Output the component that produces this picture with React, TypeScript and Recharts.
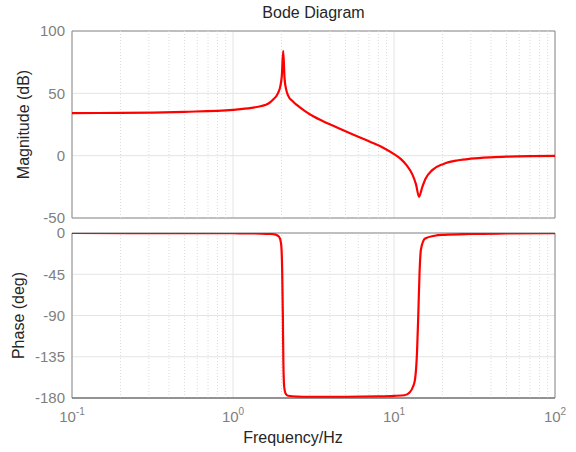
import React from "react";
import { LineChart, Line, XAxis, YAxis, CartesianGrid, ReferenceLine, ReferenceArea } from "recharts";

// values
const magFreq = [0.1, 0.2, 0.5, 1, 1.3, 1.5, 1.65, 1.77, 1.9, 1.97, 2.01, 2.05, 2.09, 2.14, 2.2, 2.35, 2.5, 2.8, 3.15, 3.6, 4.2, 5, 6, 7.2, 8.5, 10, 11, 12, 13, 13.7, 14.3, 15, 15.7, 17.2, 20.3, 25, 30, 40, 50, 70, 100];
const magDb = [34.2, 34.3, 35.2, 36.8, 38.3, 39.8, 41.6, 44.9, 50, 56, 64, 84, 62, 53, 48.2, 43.6, 40.5, 35.8, 31.6, 27.9, 24, 19.6, 15.2, 10.8, 6.6, 1.3, -2.6, -7.8, -15, -23, -33, -25, -18.5, -11.8, -6.6, -3.7, -2.4, -1.3, -0.8, -0.4, -0.2];

const phaseFreq = [0.1, 0.5, 1, 1.5, 1.7, 1.84, 1.93, 1.99, 2.02, 2.04, 2.055, 2.08, 2.12, 2.2, 2.5, 3, 5, 8, 10, 11.6, 12.5, 13.1, 13.5, 13.9, 14.15, 14.4, 14.7, 15.6, 17.9, 20.5, 30, 50, 100];
const phaseDeg = [0, -0.1, -0.3, -0.6, -1, -1.8, -4, -12, -40, -90, -140, -168, -175, -177.5, -178.5, -178.8, -178.8, -178.3, -177.7, -177, -174, -168, -160, -130, -90, -45, -18, -6, -3, -2, -1, -0.5, -0.2];

const xTicks = [0.1, 1, 10, 100];
const minorX = [0.2, 0.3, 0.4, 0.5, 0.6, 0.7, 0.8, 0.9, 2, 3, 4, 5, 6, 7, 8, 9, 20, 30, 40, 50, 60, 70, 80, 90];
const magTicks = [-50, 0, 50, 100];
const phaseTicks = [-180, -135, -90, -45, 0];

const magData = magFreq.map((f, i) => ({ f, v: magDb[i] }));
const phaseData = phaseFreq.map((f, i) => ({ f, v: phaseDeg[i] }));

const TICK = { fill: "#7f7f7f", fontSize: 15 };
const FRAME = "#8c8c8c";
const GRID = "#e4e4e4";

function LogTick({ x, y, payload }: any) {
  const e = Math.round(Math.log10(payload.value));
  return (
    <text x={x} y={y + 16} textAnchor="middle" fill="#7f7f7f" fontSize={15}>
      <tspan>10</tspan>
      <tspan dy={-7} fontSize={10}>{e}</tspan>
    </text>
  );
}

const yLabel = (text: string, off: number) => ({
  content: ({ viewBox }: any) => {
    const cx = viewBox.x + off;
    const cy = viewBox.y + viewBox.height / 2;
    return (
      <text x={cx} y={cy} transform={`rotate(-90 ${cx} ${cy})`} textAnchor="middle" fill="#262626" fontSize={16}>
        {text}
      </text>
    );
  },
});

export default function App() {
  return (
    <div style={{ position: "absolute", left: 0, top: 0, width: 576, height: 452, background: "#fff", fontFamily: "'Liberation Sans', Arial, sans-serif" }}>
      <LineChart width={576} height={234} data={magData} margin={{ top: 31, right: 21, bottom: 16, left: 0 }}>
        <CartesianGrid stroke={GRID} />
        {minorX.map((m) => (
          <ReferenceLine key={m} x={m} stroke="#dcdcdc" strokeDasharray="1 2" />
        ))}
        <XAxis type="number" dataKey="f" scale="log" domain={[0.1, 100]} ticks={xTicks} allowDataOverflow hide />
        <YAxis
          type="number"
          domain={[-50, 100]}
          ticks={magTicks}
          interval={0}
          width={72}
          tickLine={false}
          axisLine={false}
          tickMargin={1}
          tick={TICK}
          label={yLabel("Magnitude (dB)", 29)}
        />
        <ReferenceArea
          x1={0.1}
          x2={100}
          y1={-50}
          y2={100}
          fill="none"
          stroke={FRAME}
          label={{ value: "Bode Diagram", position: "top", offset: 13, fill: "#262626", fontSize: 16 }}
        />
        <Line dataKey="v" type="monotone" stroke="#ff0000" strokeWidth={2.2} dot={false} isAnimationActive={false} />
      </LineChart>
      <div style={{ position: "absolute", left: 0, top: 226 }}>
        <LineChart width={576} height={226} data={phaseData} margin={{ top: 7, right: 21, bottom: 0, left: 0 }}>
          <CartesianGrid stroke={GRID} />
          {minorX.map((m) => (
            <ReferenceLine key={m} x={m} stroke="#dcdcdc" strokeDasharray="1 2" />
          ))}
          <XAxis
            type="number"
            dataKey="f"
            scale="log"
            domain={[0.1, 100]}
            ticks={xTicks}
            interval={0}
            allowDataOverflow
            height={54}
            tickLine={false}
            axisLine={{ stroke: "#666" }}
            tick={LogTick}
            label={{
              content: ({ viewBox }: any) => (
                <text x={viewBox.x + 221} y={viewBox.y + 45} textAnchor="middle" fill="#262626" fontSize={16}>
                  Frequency/Hz
                </text>
              ),
            }}
          />
          <YAxis
            type="number"
            domain={[-180, 0]}
            ticks={phaseTicks}
            interval={0}
            width={72}
            tickLine={false}
            axisLine={false}
            tickMargin={1}
            tick={TICK}
            allowDataOverflow
            label={yLabel("Phase (deg)", 24)}
          />
          <ReferenceArea x1={0.1} x2={100} y1={-180} y2={0} fill="none" stroke={FRAME} />
          <Line dataKey="v" type="monotone" stroke="#ff0000" strokeWidth={2.2} dot={false} isAnimationActive={false} />
        </LineChart>
      </div>
    </div>
  );
}
